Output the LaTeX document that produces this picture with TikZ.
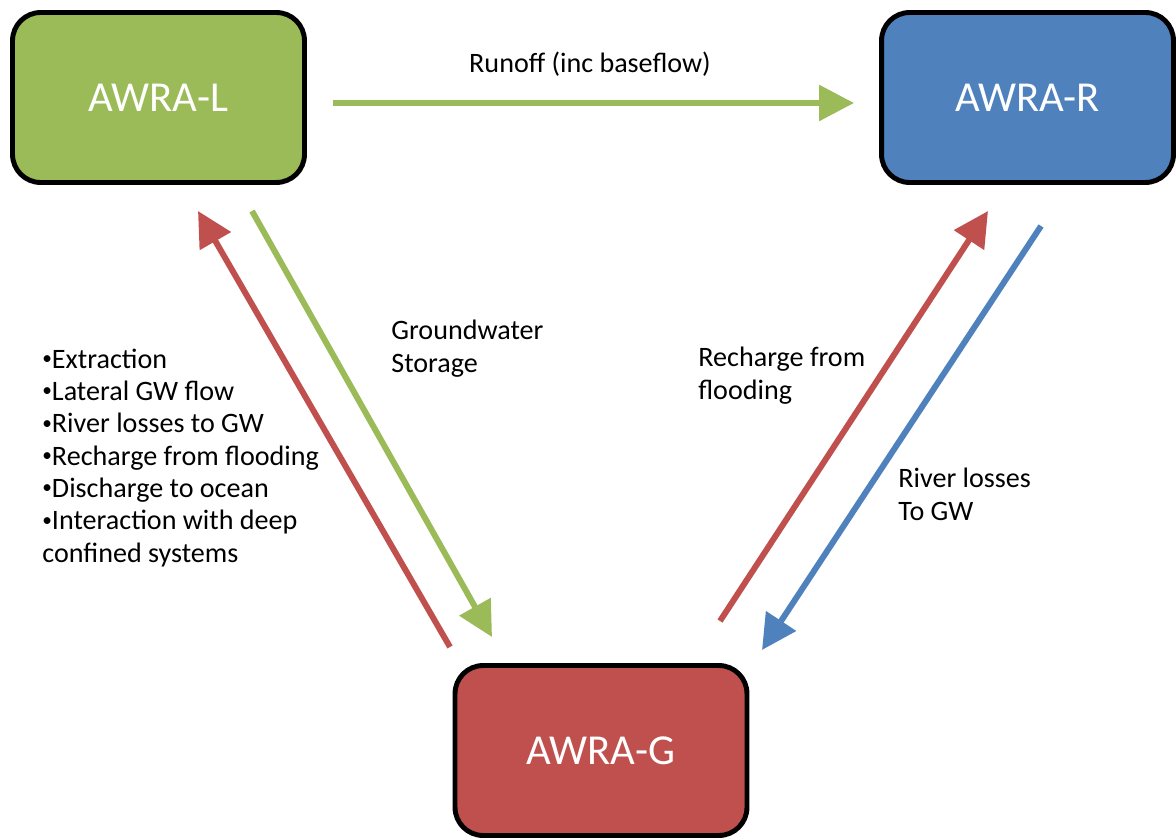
\documentclass[tikz,border=0pt]{standalone}
\usepackage{fontspec}
\setmainfont{Carlito}
\usetikzlibrary{arrows.meta,calc}

\definecolor{awgreen}{HTML}{9BBB59}
\definecolor{awblue}{HTML}{4F81BD}
\definecolor{awred}{HTML}{C0504D}

\newcommand{\smallbul}{\raisebox{0.12em}{\fontsize{11pt}{11pt}\selectfont\textbullet}}

\tikzset{
    awbox/.style={draw=black, line width=2.8pt, rounded corners=16pt,
        minimum width=5.84cm, minimum height=3.4cm, text=white,
        font=\fontsize{24.3pt}{28pt}\selectfont},
    flow/.style={line width=3.4pt, -{Triangle[length=19.8pt,width=19.8pt]}},
    lbl/.style={anchor=base west, inner sep=0pt, align=left,
        font=\fontsize{16pt}{18.4pt}\selectfont}
}

\begin{document}
\begin{tikzpicture}[x=0.02cm, y=-0.02cm]
    \useasboundingbox (0,0) rectangle (1176,838);

    % 1. The three model boxes
    \node[awbox, fill=awgreen] (awral) at (158.5,97.5) {AWRA-L};
    \node[awbox, fill=awblue] (awrar) at (1027.5,97.5) {AWRA-R};
    \node[awbox, fill=awred] (awrag) at (601,750.5) {AWRA-G};

    % 2. End points of the exchange arrows
    \coordinate (runS) at (333,103);
    \coordinate (runE) at (854,103);
    \coordinate (gwlS) at (450,647);
    \coordinate (gwlE) at (198,211);
    \coordinate (stoS) at (252,211);
    \coordinate (stoE) at (492,637);
    \coordinate (recS) at (720,621);
    \coordinate (recE) at (988,211);
    \coordinate (losS) at (1041,226);
    \coordinate (losE) at (762,650);

    % 3. Fluxes between the models
    \draw[flow, awgreen] (runS) -- (runE);
    \draw[flow, awred] (gwlS) -- (gwlE);
    \draw[flow, awgreen] (stoS) -- (stoE);
    \draw[flow, awred] (recS) -- (recE);
    \draw[flow, awblue] (losS) -- (losE);

    % 4. Labels (base anchor = baseline of the last line)
    \node[lbl, anchor=base] (runoff) at (590,72) {Runoff (inc baseflow)};
    \node[lbl] (storage) at (391,372) {Groundwater\\Storage};
    \node[lbl] (gwlist) at (42,562) {\smallbul Extraction\\
        \smallbul Lateral GW flow\\
        \smallbul River losses to GW\\
        \smallbul Recharge from flooding\\
        \smallbul Discharge to ocean\\
        \smallbul Interaction with deep\\
        confined systems};
    \node[lbl] (recharge) at (698,399) {Recharge from\\flooding};
    \node[lbl] (losses) at (898,520) {River losses\\To GW};

\end{tikzpicture}
\end{document}
